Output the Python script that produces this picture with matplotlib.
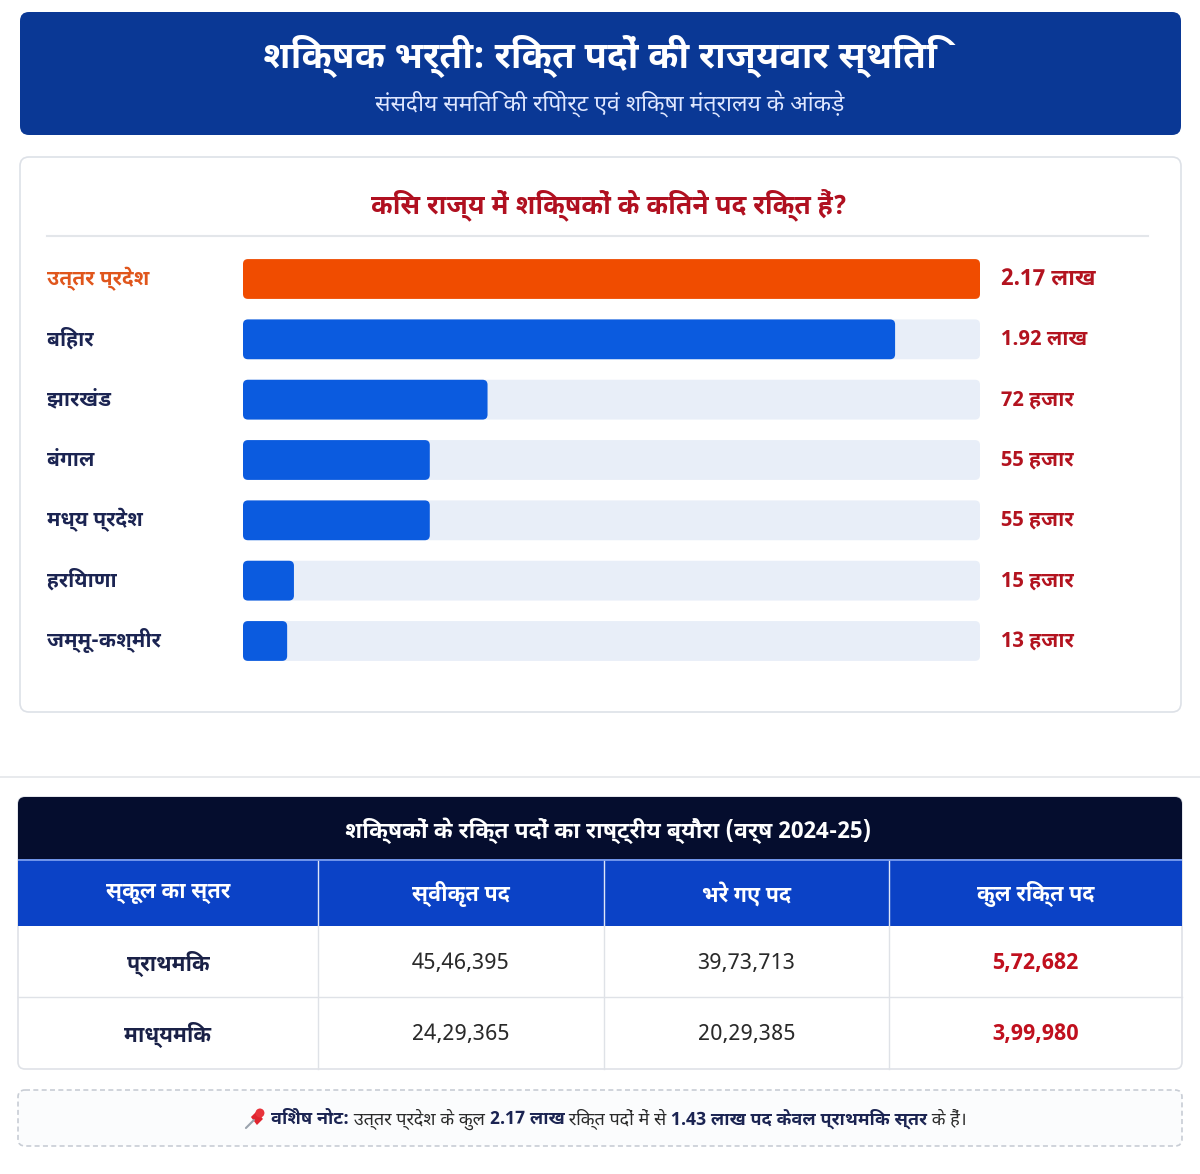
import matplotlib
matplotlib.use("Agg")
import matplotlib.pyplot as plt
import matplotlib.transforms as mtransforms
from matplotlib.patches import FancyBboxPatch, Rectangle, Circle, Polygon
import logging

logging.getLogger("matplotlib.font_manager").setLevel(logging.ERROR)

# fonts: Devanagari first, latin fallback
DEVA = ["Noto Sans Devanagari UI", "Noto Sans Devanagari", "Mukta", "Hind", "Noto Sans", "DejaVu Sans"]
plt.rcParams["font.family"] = DEVA

# ---- data ----
title = "शिक्षक भर्ती: रिक्त पदों की राज्यवार स्थिति"
subtitle = "संसदीय समिति की रिपोर्ट एवं शिक्षा मंत्रालय के आंकड़े"
chart_title = "किस राज्य में शिक्षकों के कितने पद रिक्त हैं?"

states = ["उत्तर प्रदेश", "बिहार", "झारखंड", "बंगाल", "मध्य प्रदेश", "हरियाणा", "जम्मू-कश्मीर"]
vacancies = [217000, 192000, 72000, 55000, 55000, 15000, 13000]
value_labels = ["2.17 लाख", "1.92 लाख", "72 हजार", "55 हजार", "55 हजार", "15 हजार", "13 हजार"]

table_title = "शिक्षकों के रिक्त पदों का राष्ट्रीय ब्यौरा (वर्ष 2024-25)"
col_headers = ["स्कूल का स्तर", "स्वीकृत पद", "भरे गए पद", "कुल रिक्त पद"]
levels = ["प्राथमिक", "माध्यमिक"]
sanctioned = [4546395, 2429365]
filled = [3973713, 2029385]
vacant = [572682, 399980]

note_parts = [
    ("विशेष नोट:", True),
    (" उत्तर प्रदेश के कुल ", False),
    ("2.17 लाख", True),
    (" रिक्त पदों में से ", False),
    ("1.43 लाख पद केवल प्राथमिक स्तर", True),
    (" के हैं।", False),
]


def indian(n):
    s = str(n)
    head, tail = s[:-3], s[-3:]
    groups = []
    while len(head) > 2:
        groups.insert(0, head[-2:])
        head = head[:-2]
    if head:
        groups.insert(0, head)
    return ",".join(groups + [tail])


W, H = 1200, 1174
fig = plt.figure(figsize=(W / 100, H / 100), dpi=100)
fig.patch.set_facecolor("white")

bg = fig.add_axes([0, 0, 1, 1])
bg.set_xlim(0, W)
bg.set_ylim(H, 0)
bg.axis("off")

# header band
bg.add_patch(FancyBboxPatch((20, 12), 1161, 123, boxstyle="round,pad=0,rounding_size=9",
                            fc="#0a3895", ec="none"))
bg.text(600, 56, title, ha="center", va="center", color="white", fontsize=26.5, fontweight="bold")
bg.text(610, 104, subtitle, ha="center", va="center", color="#dfe7ff", fontsize=16.5)

# chart card
bg.add_patch(FancyBboxPatch((20, 157), 1161, 555, boxstyle="round,pad=0,rounding_size=9",
                            fc="white", ec="#dde1e7", lw=1.2))
bg.text(609, 205, chart_title, ha="center", va="center", color="#b01020", fontsize=19, fontweight="bold")
bg.plot([47, 1148], [236, 236], color="#e3e6ea", lw=1.5)

# bars
n = len(states)
row_px = 60.33
top_px = 279 - row_px / 2
ax = fig.add_axes([243 / W, 1 - (top_px + n * row_px) / H, (980 - 243) / W, n * row_px / H])
ax.set_xlim(0, max(vacancies))
ax.set_ylim(n - 0.5, -0.5)
ax.axis("off")

ypos = list(range(n))
bar_h = 0.66
tracks = ax.barh(ypos, [max(vacancies)] * n, height=bar_h, color="#e8eef8")
colors = ["#f04c00"] + ["#0b5bdf"] * (n - 1)
bars = ax.barh(ypos, vacancies, height=bar_h, color=colors)

# round the corners of the bar rectangles
sx = max(vacancies) / (980 - 243)
sy = 1 / row_px
for group, zo in ((tracks, 1), (bars, 2)):
    for rect in group:
        rect.set_visible(False)
        rr = FancyBboxPatch((rect.get_x(), rect.get_y()), rect.get_width(), rect.get_height(),
                            boxstyle="round,pad=0,rounding_size=%f" % (5 * sx),
                            mutation_aspect=sy / sx, fc=rect.get_facecolor(), ec="none", zorder=zo)
        ax.add_patch(rr)

lab_tr = mtransforms.blended_transform_factory(bg.transData, ax.transData)
for i, (s, v) in enumerate(zip(states, value_labels)):
    c = "#e0561c" if i == 0 else "#1b2452"
    ax.text(47, i, s, transform=lab_tr, ha="left", va="center", color=c,
            fontsize=15, fontweight="bold", clip_on=False)
    ax.text(1001, i, v, transform=lab_tr, ha="left", va="center", color="#b3131f",
            fontsize=16.5 if i == 0 else 15, fontweight="bold", clip_on=False)

# separator
bg.plot([0, W], [777, 777], color="#e4e6ea", lw=1.2)

# table
tx0, tx1 = 18, 1182
col_x = [18, 318, 604, 889, 1182]
bg.add_patch(FancyBboxPatch((tx0, 797), tx1 - tx0, 272, boxstyle="round,pad=0,rounding_size=7",
                            fc="white", ec="#dfe2e7", lw=1.2, zorder=1))
bg.add_patch(FancyBboxPatch((tx0, 797), tx1 - tx0, 62, boxstyle="round,pad=0,rounding_size=7",
                            fc="#050d2e", ec="none", zorder=2))
bg.add_patch(Rectangle((tx0, 840), tx1 - tx0, 19, fc="#050d2e", ec="none", zorder=2))
bg.text(608, 831, table_title, ha="center", va="center", color="white", fontsize=16.5,
        fontweight="bold", zorder=5)
bg.add_patch(Rectangle((tx0, 859), tx1 - tx0, 2, fc="#6f93ea", ec="none", zorder=3))
bg.add_patch(Rectangle((tx0, 861), tx1 - tx0, 65, fc="#0b42c6", ec="none", zorder=2))

row_top = [926, 997]
row_h = 71
for j in range(1, 4):
    bg.plot([col_x[j], col_x[j]], [861, 926], color="#dfe6f8", lw=1, zorder=4)
    bg.plot([col_x[j], col_x[j]], [926, 1069], color="#dfe2e7", lw=1, zorder=4)
bg.plot([tx0, tx1], [997, 997], color="#dfe2e7", lw=1, zorder=4)

for j, h in enumerate(col_headers):
    cx = (col_x[j] + col_x[j + 1]) / 2
    bg.text(cx, 894, h, ha="center", va="center", color="white", fontsize=15.5, fontweight="bold", zorder=5)

for i in range(len(levels)):
    cy = row_top[i] + row_h / 2 + 2
    cells = [levels[i], indian(sanctioned[i]), indian(filled[i]), indian(vacant[i])]
    for j, val in enumerate(cells):
        cx = (col_x[j] + col_x[j + 1]) / 2
        if j == 0:
            kw = dict(color="#1a2147", fontweight="bold", fontsize=15.5)
        elif j == 3:
            kw = dict(color="#c0101e", fontweight="bold", fontsize=16)
        else:
            kw = dict(color="#2a2a2a", fontsize=16)
        bg.text(cx, cy, val, ha="center", va="center", zorder=5, **kw)

# note box
bg.add_patch(FancyBboxPatch((tx0, 1090), tx1 - tx0, 56, boxstyle="round,pad=0,rounding_size=7",
                            fc="#fbfcfd", ec="#c8cdd5", lw=1.2, ls=(0, (3, 2))))

fig.canvas.draw()
renderer = fig.canvas.get_renderer()
texts = []
for s, b in note_parts:
    t = bg.text(0, 1119, s, ha="left", va="center", fontsize=13,
                fontweight="bold" if b else "normal", color="#1b2452" if b else "#2a2a2a")
    texts.append(t)
widths = [t.get_window_extent(renderer).width for t in texts]
pin_w = 28
total = pin_w + sum(widths)
x = 605 - total / 2
# pin icon
bg.plot([x + 3, x + 11], [1128, 1120], color="#9aa3ad", lw=1.5, solid_capstyle="round")
bg.add_patch(Polygon([[x + 8, 1117], [x + 14, 1111], [x + 20, 1119], [x + 14, 1125]],
                     closed=True, fc="#e0242e", ec="none"))
bg.add_patch(Circle((x + 17, 1113), 4.5, fc="#e8333b", ec="none"))
x += pin_w
for t, w in zip(texts, widths):
    t.set_x(x)
    x += w

fig.savefig("out.png", dpi=100)
